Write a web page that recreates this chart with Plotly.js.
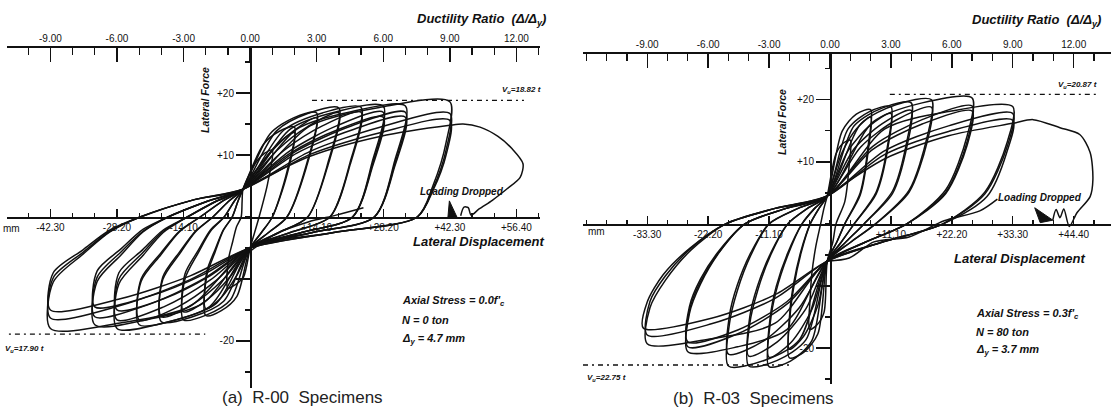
<!DOCTYPE html>
<html><head><meta charset="utf-8">
<script src="https://cdn.plot.ly/plotly-3.0.1.min.js"></script>
<style>html,body{margin:0;padding:0;background:#fff}#chart{width:1111px;height:409px}</style>
</head><body><div id="chart"></div>
<script>
// ---------------- DATA ----------------
// Left specimen R-00 : displacement (mm) / lateral force (t)
const leftDeltaY = 4.7;
const leftLoopDisp = [
 [-1.5,1.4,3.1,4.7,3.7,1.9,0.95,0,-1.4,-3.1,-4.7,-4.6,-3.7,-2.9,-1.9,-1.7,-1.5],
 [-1.5,2.8,6.1,9.4,7.8,4.7,2.4,0,-2.8,-6.1,-9.4,-9.2,-7.4,-5.7,-3.8,-2.6,-1.5],
 [-1.5,2.8,6.1,9.4,7.8,4.7,2.4,0,-2.8,-6.1,-9.4,-9.2,-7.4,-5.7,-3.8,-2.6,-1.5],
 [-1.5,4.2,9.2,14.1,11.9,7.8,3.9,0,-4.2,-9.2,-14.1,-13.8,-11.0,-8.4,-5.5,-3.4,-1.5],
 [-1.5,4.2,9.2,14.1,11.9,7.8,3.9,0,-4.2,-9.2,-14.1,-13.8,-11.0,-8.4,-5.5,-3.4,-1.5],
 [-1.5,5.6,12.2,18.8,16.5,12.2,6.1,0,-5.6,-12.2,-18.8,-18.5,-14.9,-11.6,-7.9,-4.6,-1.5],
 [-1.5,5.6,12.2,18.8,16.5,12.2,6.1,0,-5.6,-12.2,-18.8,-18.5,-14.9,-11.6,-7.9,-4.6,-1.5],
 [-1.5,7.1,15.3,23.5,21.2,16.9,8.5,0,-7.1,-15.3,-23.5,-23.1,-18.9,-15.0,-10.6,-6.0,-1.5],
 [-1.5,7.1,15.3,23.5,21.2,16.9,8.5,0,-7.1,-15.3,-23.5,-23.1,-18.9,-15.0,-10.6,-6.0,-1.5],
 [-1.5,8.5,18.3,28.2,25.9,21.7,10.9,0,-8.5,-18.3,-28.2,-27.8,-22.8,-18.4,-13.3,-7.3,-1.5],
 [-1.5,8.5,18.3,28.2,25.9,21.7,10.9,0,-8.5,-18.3,-28.2,-27.8,-22.8,-18.4,-13.3,-7.3,-1.5],
 [-1.5,8.5,18.3,28.2,25.9,21.7,10.9,0,-8.5,-18.3,-28.2,-27.8,-22.8,-18.4,-13.3,-7.3,-1.5],
 [-1.5,9.9,21.4,32.9,30.6,26.3,13.2,0,-9.9,-21.4,-32.9,-32.4,-27.3,-22.7,-17.4,-9.2,-1.5],
 [-1.5,9.9,21.4,32.9,30.6,26.3,13.2,0,-9.9,-21.4,-32.9,-32.4,-27.3,-22.7,-17.4,-9.2,-1.5],
 [-1.5,9.9,21.4,32.9,30.6,26.3,13.2,0,-9.9,-21.4,-32.9,-32.4,-27.3,-22.7,-17.4,-9.2,-1.5],
 [-1.5,12.7,27.5,42.3,41.5,38.8,35.4,17.7,0,-12.7,-27.5,-42.3,-41.7,-35.4,-29.7,-23.3,-11.8,-1.5],
 [-1.5,12.7,27.5,42.3,41.5,38.8,35.4,17.7,0,-12.7,-27.5,-42.3,-41.7,-35.4,-29.7,-23.3,-11.8,-1.5],
 [-1.5,12.7,27.5,42.3,41.5,38.8,35.4,17.7,0,-12.7,-27.5,-42.3,-41.7,-35.4,-29.7,-23.3,-11.8,-1.5]
];
const leftLoopForce = [
 [4.5,9.0,10.3,10.8,5.4,0,-2.5,-5,-9.7,-10.9,-11.5,-6.9,-4.0,-1.6,0,2.5,4.5],
 [4.5,11.7,13.8,14.5,7.3,0,-2.5,-5,-12.8,-15.1,-15.9,-9.5,-5.6,-2.2,0,2.5,4.5],
 [4.5,9.1,12.0,13.6,6.8,0,-2.5,-5,-9.4,-13.0,-14.8,-8.9,-5.2,-2.1,0,2.5,4.5],
 [4.5,13.4,16.0,16.8,8.4,0,-2.5,-5,-13.4,-15.8,-16.6,-10.0,-5.8,-2.3,0,2.5,4.5],
 [4.5,10.3,13.9,16.0,8.0,0,-2.5,-5,-9.6,-13.4,-15.3,-9.2,-5.4,-2.1,0,2.5,4.5],
 [4.5,13.9,16.7,17.6,8.8,0,-2.5,-5,-13.6,-16.1,-16.9,-10.1,-5.9,-2.4,0,2.5,4.5],
 [4.5,10.7,14.6,16.8,8.4,0,-2.5,-5,-10.0,-14.1,-16.1,-9.7,-5.6,-2.3,0,2.5,4.5],
 [4.5,14.0,16.8,17.7,8.9,0,-2.5,-5,-13.9,-16.5,-17.4,-10.4,-6.1,-2.4,0,2.5,4.5],
 [4.5,10.7,14.7,16.9,8.5,0,-2.5,-5,-10.2,-14.5,-16.6,-10.0,-5.8,-2.3,0,2.5,4.5],
 [4.5,14.2,17.0,17.9,9.0,0,-2.5,-5,-14.4,-17.1,-18.0,-10.8,-6.3,-2.5,0,2.5,4.5],
 [4.5,10.7,14.7,16.9,8.5,0,-2.5,-5,-10.2,-14.5,-16.6,-10.0,-5.8,-2.3,0,2.5,4.5],
 [4.5,10.3,14.0,16.1,8.1,0,-2.5,-5,-9.5,-13.2,-15.0,-9.0,-5.3,-2.1,0,2.5,4.5],
 [4.5,14.2,17.0,17.9,9.0,0,-2.5,-5,-13.9,-16.5,-17.4,-10.4,-6.1,-2.4,0,2.5,4.5],
 [4.5,10.7,14.7,16.9,8.5,0,-2.5,-5,-10.0,-14.1,-16.1,-9.7,-5.6,-2.3,0,2.5,4.5],
 [4.5,10.3,14.0,16.1,8.1,0,-2.5,-5,-9.3,-12.8,-14.5,-8.7,-5.1,-2.0,0,2.5,4.5],
 [4.5,14.7,17.7,18.6,12.0,5.2,0,-2.5,-5,-14.4,-17.1,-18.0,-10.5,-6.0,-2.4,0,2.8,4.5],
 [4.5,10.6,14.5,16.7,10.8,4.7,0,-2.5,-5,-10.1,-14.3,-16.3,-9.8,-5.7,-2.3,0,2.8,4.5],
 [4.5,10.1,13.6,15.6,10.0,4.4,0,-2.5,-5,-9.5,-13.2,-15.0,-9.0,-5.3,-2.1,0,2.8,4.5]
];
const leftFinalDisp  = [-1.5,12.7,27.5,42.3,45.1,48.7,52.5,55.5,57.8,57.2,54.5,51.3,48.5,46.8,46.2,45.3,44.6];
const leftFinalForce = [4.5,9.8,13.0,14.8,15.0,14.5,13.0,11.0,8.6,6.4,4.6,2.7,1.3,0.3,1.5,1.6,0.2];
const leftSDisp  = [0,5.5,12.3,18.2,24.0];
const leftSForce = [-5.5,-2.7,-0.8,0.3,1.5];
const leftDropDisp  = [41.9,42.2,43.8,41.9];
const leftDropForce = [0,2.6,0,0];
const leftVuPos = {disp:[13.1,58.0], force:[18.82,18.82]};
const leftVuNeg = {disp:[-53.0,-9.5], force:[-18.9,-18.9]};

// Right specimen R-03
const rightDeltaY = 3.7;
const rightLoopDisp = [
 [-0.5,1.1,2.4,3.7,3.5,2.7,1.1,0.5,-0.5,-1.1,-2.4,-3.7,-3.6,-3.3,-2.6,-1.7,-1.1,-0.5],
 [-0.5,2.2,4.8,7.4,7.0,5.5,2.7,1.2,-0.5,-2.2,-4.8,-7.4,-7.3,-6.6,-5.3,-3.6,-2.0,-0.5],
 [-0.5,2.2,4.8,7.4,7.0,5.5,2.7,1.2,-0.5,-2.2,-4.8,-7.4,-7.3,-6.6,-5.3,-3.6,-2.0,-0.5],
 [-0.5,3.3,7.2,11.1,10.6,8.4,4.4,2.0,-0.5,-3.3,-7.2,-11.1,-10.9,-9.8,-7.7,-5.1,-2.8,-0.5],
 [-0.5,3.3,7.2,11.1,10.6,8.4,4.4,2.0,-0.5,-3.3,-7.2,-11.1,-10.9,-9.8,-7.7,-5.1,-2.8,-0.5],
 [-0.5,4.4,9.6,14.8,14.1,11.4,6.2,2.8,-0.5,-4.4,-9.6,-14.8,-14.6,-13.2,-10.8,-7.7,-4.1,-0.5],
 [-0.5,4.4,9.6,14.8,14.1,11.4,6.2,2.8,-0.5,-4.4,-9.6,-14.8,-14.6,-13.2,-10.8,-7.7,-4.1,-0.5],
 [-0.5,5.6,12.0,18.5,17.7,14.4,8.3,3.7,-0.5,-5.6,-12.0,-18.5,-18.3,-16.9,-14.4,-11.1,-5.8,-0.5],
 [-0.5,5.6,12.0,18.5,17.7,14.4,8.3,3.7,-0.5,-5.6,-12.0,-18.5,-18.3,-16.9,-14.4,-11.1,-5.8,-0.5],
 [-0.5,7.8,16.8,25.9,25.0,21.1,14.0,6.3,-0.5,-7.8,-16.8,-25.9,-25.6,-23.6,-20.1,-15.5,-8.0,-0.5],
 [-0.5,7.8,16.8,25.9,25.0,21.1,14.0,6.3,-0.5,-7.8,-16.8,-25.9,-25.6,-23.6,-20.1,-15.5,-8.0,-0.5],
 [-0.5,7.8,16.8,25.9,25.0,21.1,14.0,6.3,-0.5,-7.8,-16.8,-25.9,-25.6,-23.6,-20.1,-15.5,-8.0,-0.5],
 [-0.5,10.0,21.6,33.3,32.3,28.2,20.6,9.3,-0.5,-10.0,-21.6,-33.3,-32.8,-30.0,-25.3,-19.0,-10.0,-0.5],
 [-0.5,10.0,21.6,33.3,32.3,28.2,20.6,9.3,-0.5,-10.0,-21.6,-33.3,-32.8,-30.0,-25.3,-19.0,-10.0,-0.5],
 [-0.5,10.0,21.6,33.3,32.2,28.6,20.6,9.3,-0.5,-10.0,-21.6,-34.0,-33.3,-30.4,-25.5,-19.0,-10.0,-0.5]
];
const rightLoopForce = [
 [4.5,11.3,13.0,13.5,9.5,3.6,0,-3,-6,-14.3,-16.3,-17.0,-11.9,-8.0,-3.7,0,2.5,4.5],
 [4.5,14.9,17.7,18.4,12.9,5.0,0,-3,-6,-17.7,-20.7,-21.6,-15.1,-10.2,-4.8,0,2.5,4.5],
 [4.5,11.5,15.3,17.2,12.0,4.6,0,-3,-6,-13.1,-18.1,-20.2,-14.1,-9.5,-4.4,0,2.5,4.5],
 [4.5,15.3,18.1,18.9,13.2,5.1,0,-3,-6,-18.8,-22.1,-23.0,-16.1,-10.8,-5.1,0,2.5,4.5],
 [4.5,11.8,15.8,17.8,12.5,4.8,0,-3,-6,-13.8,-19.2,-21.5,-15.1,-10.1,-4.7,0,2.5,4.5],
 [4.5,15.8,18.7,19.5,13.7,5.3,0,-3,-6,-18.7,-22.0,-22.9,-16.0,-10.8,-5.0,0,2.5,4.5],
 [4.5,12.1,16.2,18.3,12.8,4.9,0,-3,-6,-13.7,-19.0,-21.3,-14.9,-10.0,-4.7,0,2.5,4.5],
 [4.5,16.1,19.2,20.0,14.0,5.4,0,-3,-6,-18.7,-22.0,-22.9,-16.0,-10.8,-5.0,0,2.5,4.5],
 [4.5,12.4,16.7,18.8,13.2,5.1,0,-3,-6,-13.5,-18.8,-21.0,-14.7,-9.9,-4.6,0,2.5,4.5],
 [4.5,16.4,19.5,20.3,14.2,5.5,0,-3,-6,-17.0,-19.8,-20.6,-14.4,-9.7,-4.5,0,2.5,4.5],
 [4.5,12.5,16.8,19.0,13.3,5.1,0,-3,-6,-12.9,-17.7,-19.8,-13.9,-9.3,-4.4,0,2.5,4.5],
 [4.5,12.0,16.1,18.2,12.7,4.9,0,-3,-6,-12.5,-17.1,-19.0,-13.3,-8.9,-4.2,0,2.5,4.5],
 [4.5,15.3,18.1,18.9,13.2,5.1,0,-3,-6,-16.0,-18.5,-19.3,-13.5,-9.1,-4.2,0,2.5,4.5],
 [4.5,11.8,15.8,17.8,12.5,4.8,0,-3,-6,-12.0,-16.1,-17.9,-12.5,-8.4,-3.9,0,2.5,4.5],
 [4.5,11.2,14.9,16.7,11.5,4.4,0,-3,-6,-11.4,-15.2,-16.8,-12.6,-8.2,-3.9,0,2.5,4.5]
];
const rightFinalDisp  = [-0.5,10.0,21.6,33.3,37.0,41.9,45.5,47.4,47.9,47.4,45.0,43.6,42.6,41.9,41.2,40.6];
const rightFinalForce = [4.5,10.5,14.2,16.2,16.8,15.5,14.4,11.5,7.1,4.4,1.8,-0.4,2.4,1.0,2.3,0.6];
const rightSDisp  = [-0.5,3.5,8.0,14.4,20.8,27.3,30.5];
const rightSForce = [-6,-5.5,-2.9,-2.1,0.5,2.1,4.0];
const rightDropDisp  = [37.3,40.6,38.3,37.3];
const rightDropForce = [2.6,0.6,0.2,2.6];
const rightVuPos = {disp:[10.9,49.0], force:[20.87,20.87]};
const rightVuNeg = {disp:[-45.0,-6.9], force:[-22.75,-22.75]};

// Tick labels
const ductTicks  = [-9,-6,-3,0,3,6,9,12];
const ductLabels = ['-9.00','-6.00','-3.00','0.00','3.00','6.00','9.00','12.00'];
const leftDispTicks  = [-42.3,-28.2,-14.1,14.1,28.2,42.3,56.4];
const leftDispLabels = ['-42.30','-28.20','-14.10','+14.10','+28.20','+42.30','+56.40'];
const rightDispTicks  = [-33.3,-22.2,-11.1,11.1,22.2,33.3,44.4];
const rightDispLabels = ['-33.30','-22.20','-11.10','+11.10','+22.20','+33.30','+44.40'];
const forceTicks  = [-20,-10,10,20];
const forceLabels = ['-20','','+10','+20'];

// ---------------- LAYOUT HELPERS ----------------
const W = 1111, H = 409;
const PX = x => x / W, PY = y => 1 - y / H;
const INK = '#111';
const FONT = 'Liberation Sans, Arial, sans-serif';
const lineStyle = {color: INK, width: 1.5, shape: 'spline', smoothing: 0.8};

const traces = [];
function addCurve(x, y, xa, ya, extra) {
  traces.push(Object.assign({x, y, xaxis: xa, yaxis: ya, mode: 'lines', line: lineStyle,
    hoverinfo: 'skip', showlegend: false}, extra || {}));
}
leftLoopDisp.forEach((d, i) => addCurve(d, leftLoopForce[i], 'x', 'y'));
addCurve(leftFinalDisp, leftFinalForce, 'x', 'y');
addCurve(leftSDisp, leftSForce, 'x', 'y');
addCurve(leftDropDisp, leftDropForce, 'x', 'y', {fill: 'toself', fillcolor: INK, line: {color: INK, width: 1}});
[leftVuPos, leftVuNeg].forEach(v => addCurve(v.disp, v.force, 'x', 'y', {line: {color: INK, width: 1.4, dash: '5px,4px,2px,4px'}}));

rightLoopDisp.forEach((d, i) => addCurve(d, rightLoopForce[i], 'x3', 'y2'));
addCurve(rightFinalDisp, rightFinalForce, 'x3', 'y2');
addCurve(rightSDisp, rightSForce, 'x3', 'y2');
addCurve(rightDropDisp, rightDropForce, 'x3', 'y2', {fill: 'toself', fillcolor: INK, line: {color: INK, width: 1}});
[rightVuPos, rightVuNeg].forEach(v => addCurve(v.disp, v.force, 'x3', 'y2', {line: {color: INK, width: 1.4, dash: '5px,4px,2px,4px'}}));

// invisible traces so that the ductility axes are drawn
traces.push({x: [ductTicks[3]], y: [0], xaxis: 'x2', yaxis: 'y', mode: 'markers', marker: {opacity: 0}, hoverinfo: 'skip', showlegend: false});
traces.push({x: [ductTicks[3]], y: [0], xaxis: 'x4', yaxis: 'y2', mode: 'markers', marker: {opacity: 0}, hoverinfo: 'skip', showlegend: false});

const tickFont = {family: FONT, size: 10, color: INK};
const baseAxis = {showline: true, linecolor: INK, linewidth: 1.5, showgrid: false, zeroline: false,
  tickcolor: INK, tickwidth: 1.4, tickfont: tickFont, fixedrange: true, automargin: false};

function dispAxis(dom, range, pos, vals, labels, minorStep) {
  return Object.assign({}, baseAxis, {domain: dom, range, anchor: 'free', position: pos,
    ticks: 'inside', ticklen: 8, tickmode: 'array', tickvals: vals, ticktext: labels,
    minor: {tickmode: 'linear', tick0: 0, dtick: minorStep, ticks: 'inside', ticklen: 4, tickwidth: 1.2, tickcolor: INK}});
}
function ductAxis(dom, range, pos, over) {
  return Object.assign({}, baseAxis, {domain: dom, range, anchor: 'free', position: pos, overlaying: over, side: 'top',
    ticks: 'inside', ticklen: 14, tickmode: 'array', tickvals: ductTicks, ticktext: ductLabels,
    minor: {tickmode: 'linear', tick0: 0, dtick: 1, ticks: 'inside', ticklen: 7, tickwidth: 1.3, tickcolor: INK}});
}
function forceAxis(dom, range, pos) {
  return Object.assign({}, baseAxis, {domain: dom, range, anchor: 'free', position: pos,
    ticks: 'outside', ticklen: 14, tickmode: 'array', tickvals: forceTicks, ticktext: forceLabels,
    minor: {tickmode: 'linear', tick0: 0, dtick: 5, ticks: 'outside', ticklen: 5, tickwidth: 1.3, tickcolor: INK}});
}

const LXdom = [PX(7), PX(540)], LXr = [-51.5, 61.4];
const RXdom = [PX(583), 1], RXr = [-45.0, 51.2];
const LYdom = [PY(388), PY(46)], LYr = [-27.6, 27.6];
const RYdom = [PY(384), PY(52)], RYr = [-25.8, 27.7];

const bi = t => '<b><i>' + t + '</i></b>';
function ann(text, x, y, size, opts) {
  return Object.assign({text, x: PX(x), y: PY(y), xref: 'paper', yref: 'paper', showarrow: false,
    font: {family: FONT, size, color: INK}, xanchor: 'center', yanchor: 'middle'}, opts || {});
}

const annotations = [
  ann(bi('Ductility Ratio  (Δ/Δ<sub>y</sub>)'), 548, 19, 13, {xanchor: 'right'}),
  ann(bi('Ductility Ratio  (Δ/Δ<sub>y</sub>)'), 1103, 20, 13, {xanchor: 'right'}),
  ann(bi('Lateral Force'), 205, 100, 10.5, {textangle: -90}),
  ann(bi('Lateral Force'), 782, 122, 10.5, {textangle: -90}),
  ann(bi('V<sub>u</sub>=18.82 t'), 521, 90, 8),
  ann(bi('V<sub>u</sub>=20.87 t'), 1077, 85, 8),
  ann(bi('V<sub>u</sub>=17.90 t'), 3, 349, 8, {xanchor: 'left'}),
  ann(bi('V<sub>u</sub>=22.75 t'), 585, 378, 8, {xanchor: 'left'}),
  ann(bi('Loading Dropped'), 462, 191, 10),
  ann(bi('Loading Dropped'), 1040, 197, 10),
  ann(bi('Lateral Displacement'), 546, 242, 13, {xanchor: 'right'}),
  ann(bi('Lateral Displacement'), 1087, 258, 13, {xanchor: 'right'}),
  ann(bi("Axial Stress = 0.0f'<sub>c</sub>"), 400, 301, 11, {xanchor: 'left'}),
  ann(bi('N = 0 ton'), 400, 320, 11, {xanchor: 'left'}),
  ann(bi('Δ<sub>y</sub> = 4.7 mm'), 400, 339, 11, {xanchor: 'left'}),
  ann(bi("Axial Stress = 0.3f'<sub>c</sub>"), 974, 314, 11, {xanchor: 'left'}),
  ann(bi('N = 80 ton'), 974, 332, 11, {xanchor: 'left'}),
  ann(bi('Δ<sub>y</sub> = 3.7 mm'), 974, 350, 11, {xanchor: 'left'}),
  ann('mm', 1, 228, 10, {xanchor: 'left'}),
  ann('mm', 586, 231, 10, {xanchor: 'left'}),
  ann('(a)  R-00  Specimens', 302, 397, 17, {font: {family: FONT, size: 17, color: '#222'}}),
  ann('(b)  R-03  Specimens', 753, 398, 17, {font: {family: FONT, size: 17, color: '#222'}})
];

const layout = {
  width: W, height: H, margin: {l: 0, r: 0, t: 0, b: 0, pad: 0},
  paper_bgcolor: '#fff', plot_bgcolor: 'rgba(0,0,0,0)', showlegend: false,
  xaxis:  dispAxis(LXdom, LXr, PY(217), leftDispTicks, leftDispLabels, leftDeltaY),
  xaxis2: ductAxis(LXdom, [LXr[0] / leftDeltaY, LXr[1] / leftDeltaY], PY(46), 'x'),
  yaxis:  forceAxis(LYdom, LYr, PX(250)),
  xaxis3: dispAxis(RXdom, RXr, PY(224), rightDispTicks, rightDispLabels, rightDeltaY),
  xaxis4: ductAxis(RXdom, [RXr[0] / rightDeltaY, RXr[1] / rightDeltaY], PY(52), 'x3'),
  yaxis2: forceAxis(RYdom, RYr, PX(830)),
  annotations
};

Plotly.newPlot('chart', traces, layout, {staticPlot: true, displayModeBar: false});
</script></body></html>
